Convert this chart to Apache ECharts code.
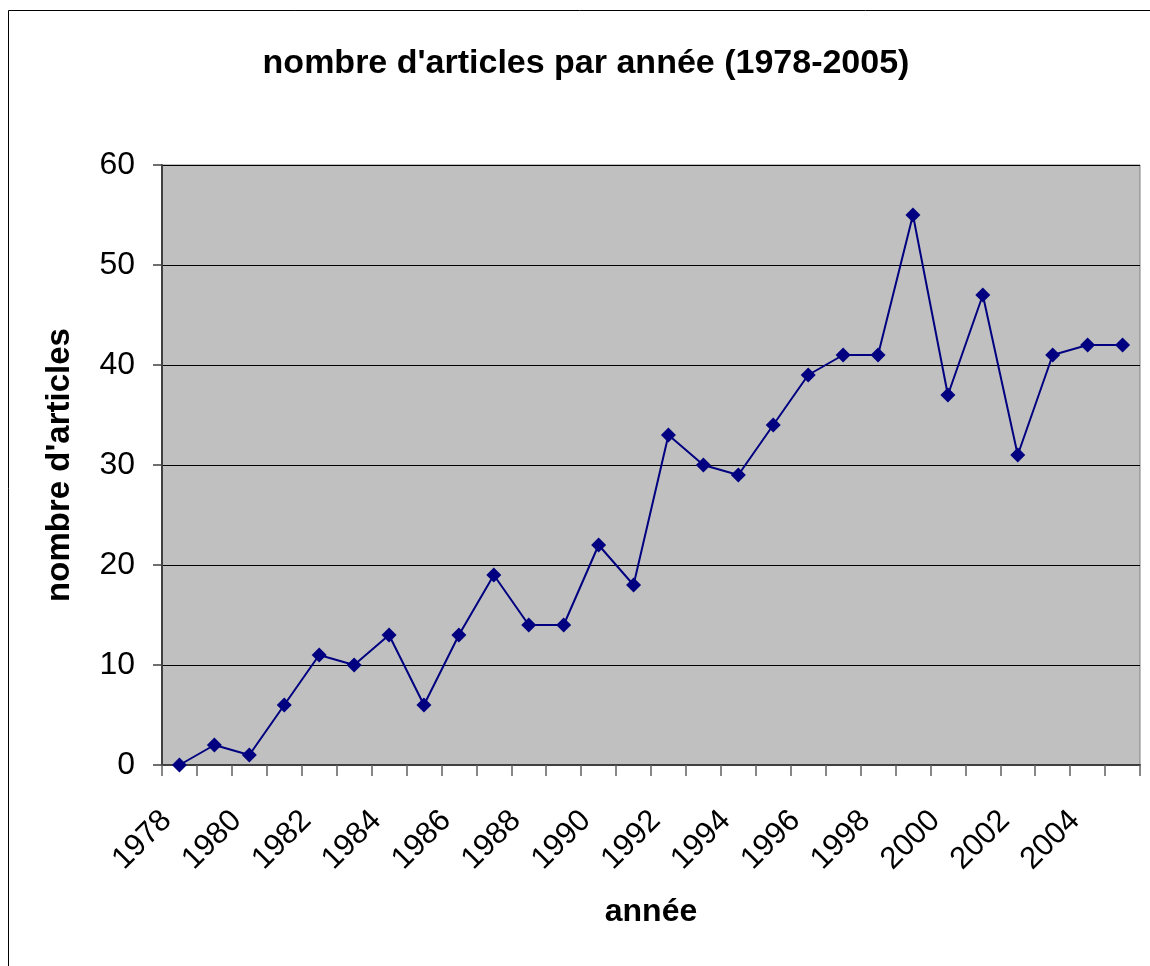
<!DOCTYPE html>
<html>
<head>
<meta charset="utf-8">
<script src="https://cdn.jsdelivr.net/npm/echarts@6/dist/echarts.min.js"></script>
<style>
  html, body { margin: 0; padding: 0; background: #fff; }
  #chart { width: 1150px; height: 966px; }
</style>
</head>
<body>
<div id="chart"></div>
<script>
// années et nombre d'articles
const years = ['1978', '1979', '1980', '1981', '1982', '1983', '1984', '1985', '1986', '1987',
  '1988', '1989', '1990', '1991', '1992', '1993', '1994', '1995', '1996', '1997',
  '1998', '1999', '2000', '2001', '2002', '2003', '2004', '2005']
const articles = [0, 2, 1, 6, 11, 10, 13, 6, 13, 19,
  14, 14, 22, 18, 33, 30, 29, 34, 39, 41,
  41, 55, 37, 47, 31, 41, 42, 42]

const chart = echarts.init(document.getElementById('chart'))
const font = 'Liberation Sans, Arial, sans-serif'

chart.setOption({
  animation: false,
  backgroundColor: '#ffffff',
  title: {
    text: "nombre d'articles par année (1978-2005)",
    left: 581,
    textAlign: 'center',
    top: 42,
    textStyle: { fontFamily: font, fontSize: 34, fontWeight: 'bold', color: '#000' }
  },
  graphic: [
    {
      type: 'rect',
      shape: { x: 8.5, y: 10.5, width: 1160, height: 980 },
      style: { fill: 'none', stroke: '#000', lineWidth: 1 },
      silent: true
    }
  ],
  grid: {
    left: 162,
    top: 165,
    right: 10,
    bottom: 201,
    show: true,
    backgroundColor: '#c0c0c0',
    borderColor: '#808080',
    borderWidth: 1
  },
  xAxis: {
    type: 'category',
    data: years,
    boundaryGap: true,
    name: 'année',
    nameLocation: 'middle',
    nameGap: 131,
    nameTextStyle: { fontFamily: font, fontSize: 32, fontWeight: 'bold', color: '#000' },
    axisLine: { lineStyle: { color: '#404040', width: 2 } },
    axisTick: { show: true, interval: 0, length: 11, lineStyle: { color: '#606060', width: 1.5 } },
    axisLabel: {
      interval: 1,
      rotate: 45,
      margin: 38,
      padding: [0, 18, 0, 0],
      fontFamily: font,
      fontSize: 31,
      color: '#000'
    },
    splitLine: { show: false }
  },
  yAxis: {
    type: 'value',
    min: 0,
    max: 60,
    interval: 10,
    name: "nombre d'articles",
    nameLocation: 'middle',
    nameGap: 86,
    nameRotate: 90,
    nameTextStyle: { fontFamily: font, fontSize: 33, fontWeight: 'bold', color: '#000' },
    axisLine: { show: true, lineStyle: { color: '#404040', width: 2 } },
    axisTick: { show: true, inside: false, length: 9, lineStyle: { color: '#404040', width: 1.5 } },
    axisLabel: { margin: 27, fontFamily: font, fontSize: 32, color: '#000' },
    splitLine: { show: true, lineStyle: { color: '#000', width: 1 } }
  },
  series: [
    {
      type: 'line',
      data: articles,
      symbol: 'diamond',
      symbolSize: 15,
      lineStyle: { color: '#000080', width: 2 },
      itemStyle: { color: '#000080' },
      z: 5
    }
  ]
})
</script>
</body>
</html>
